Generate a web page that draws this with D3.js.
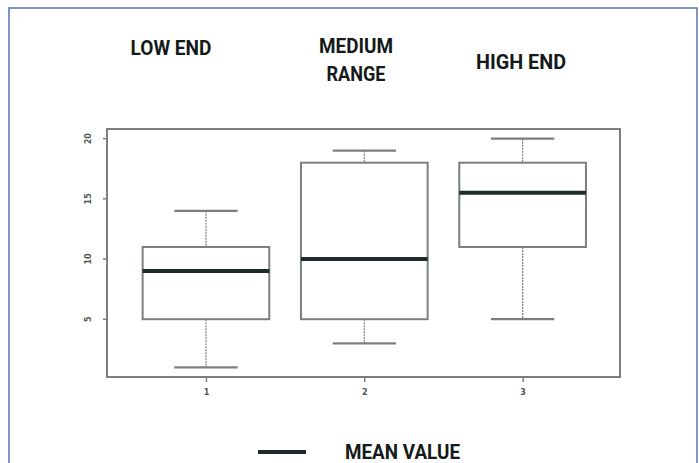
<!DOCTYPE html>
<html lang="en">
	<head>
		<meta charset="utf-8">
		<title>Box plot: low end / medium range / high end</title>
		<script src="https://cdn.jsdelivr.net/npm/d3@7"></script>
		<style>
			body { margin: 0; background: #fff; }
			svg { display: block; }
		</style>
	</head>
	<body>
		<script>
			// size of the picture
			var w = 699;
			var h = 463;

			// data
			var groups = [1, 2, 3];
			var groupNames = [["LOW END"], ["MEDIUM", "RANGE"], ["HIGH END"]];
			var lowWhisker = [1, 3, 5];
			var q1 = [5, 5, 11];
			var median = [9, 10, 15.5];
			var q3 = [11, 18, 18];
			var highWhisker = [14, 19, 20];
			var yTicks = [5, 10, 15, 20];
			var legendLabel = "MEAN VALUE";

			var boxes = groups.map(function(g, i) {
				return { g: g, lo: lowWhisker[i], q1: q1[i], med: median[i], q3: q3[i], hi: highWhisker[i] };
			});

			var svg = d3.select("body").append("svg")
				.attr("width", w)
				.attr("height", h);

			// blue panel border
			svg.append("rect")
				.attr("x", 9).attr("y", 8)
				.attr("width", 688).attr("height", 470)
				.attr("fill", "none")
				.attr("stroke", "#5474b4")
				.attr("stroke-width", 1.5);

			// plot area (plain names like "top" clash with window.top)
			var pLeft = 107, pRight = 620, pTop = 129, pBottom = 377;

			var x = d3.scaleLinear().domain([0.375, 3.615]).range([pLeft, pRight]);
			var y = d3.scaleLinear().domain([0.2, 20.8]).range([pBottom, pTop]);

			var grey = "#7b7f80";
			var tickFont = "DejaVu Sans, sans-serif";

			// y axis, R style with turned labels
			var yAxis = svg.append("g")
				.attr("transform", "translate(" + pLeft + ",0)")
				.call(d3.axisLeft(y).tickValues(yTicks).tickSize(4));
			yAxis.select(".domain").remove();
			yAxis.selectAll("line").attr("stroke", grey).attr("stroke-width", 1.5);
			yAxis.selectAll("text")
				.attr("x", null).attr("dy", null)
				.attr("transform", function(d) { return "translate(-19," + y(d) + ") rotate(-90)"; })
				.attr("text-anchor", "middle")
				.attr("dy", "0.35em")
				.style("font-family", tickFont)
				.style("font-size", "8px")
				.style("font-weight", "bold")
				.attr("fill", "#4d5556");
			yAxis.selectAll(".tick").attr("transform", null);
			yAxis.selectAll("line")
				.attr("y1", function(d) { return y(d); })
				.attr("y2", function(d) { return y(d); });

			// x axis
			var xAxis = svg.append("g")
				.attr("transform", "translate(0," + pBottom + ")")
				.call(d3.axisBottom(x).tickValues(groups).tickFormat(d3.format("d")).tickSize(5).tickPadding(7));
			xAxis.select(".domain").remove();
			xAxis.selectAll("line").attr("stroke", grey).attr("stroke-width", 1.5);
			xAxis.selectAll("text")
				.style("font-family", tickFont)
				.style("font-size", "8px")
				.style("font-weight", "bold")
				.attr("fill", "#4d5556");

			// frame
			svg.append("rect")
				.attr("x", pLeft).attr("y", pTop)
				.attr("width", pRight - pLeft).attr("height", pBottom - pTop)
				.attr("fill", "none")
				.attr("stroke", grey)
				.attr("stroke-width", 2);

			var boxW = 0.8, capW = 0.4;

			var g = svg.selectAll(".box")
				.data(boxes)
				.enter()
				.append("g")
				.attr("class", "box");

			// whiskers
			g.append("line")
				.attr("x1", function(d) { return x(d.g); })
				.attr("x2", function(d) { return x(d.g); })
				.attr("y1", function(d) { return y(d.hi); })
				.attr("y2", function(d) { return y(d.q3); })
				.attr("stroke", grey).attr("stroke-width", 1.2)
				.attr("stroke-dasharray", "2,1");
			g.append("line")
				.attr("x1", function(d) { return x(d.g); })
				.attr("x2", function(d) { return x(d.g); })
				.attr("y1", function(d) { return y(d.q1); })
				.attr("y2", function(d) { return y(d.lo); })
				.attr("stroke", grey).attr("stroke-width", 1.2)
				.attr("stroke-dasharray", "2,1");

			// caps
			["lo", "hi"].forEach(function(k) {
				g.append("line")
					.attr("x1", function(d) { return x(d.g - capW / 2); })
					.attr("x2", function(d) { return x(d.g + capW / 2); })
					.attr("y1", function(d) { return y(d[k]); })
					.attr("y2", function(d) { return y(d[k]); })
					.attr("stroke", grey).attr("stroke-width", 2.2);
			});

			// box
			g.append("rect")
				.attr("x", function(d) { return x(d.g - boxW / 2); })
				.attr("y", function(d) { return y(d.q3); })
				.attr("width", function(d) { return x(d.g + boxW / 2) - x(d.g - boxW / 2); })
				.attr("height", function(d) { return y(d.q1) - y(d.q3); })
				.attr("fill", "none")
				.attr("stroke", grey)
				.attr("stroke-width", 2);

			// median
			g.append("line")
				.attr("x1", function(d) { return x(d.g - boxW / 2); })
				.attr("x2", function(d) { return x(d.g + boxW / 2); })
				.attr("y1", function(d) { return y(d.med); })
				.attr("y2", function(d) { return y(d.med); })
				.attr("stroke", "#1f2a2a")
				.attr("stroke-width", 4);

			// group titles above the plot (they sit a little left of the boxes)
			var titleX = [171, 356, 521];
			var titleY = [[48], [46, 74], [62]];
			var titleW = [[81], [74, 59], [90]];
			groupNames.forEach(function(lines, i) {
				lines.forEach(function(t, j) {
					svg.append("text")
						.attr("x", titleX[i])
						.attr("y", titleY[i][j])
						.attr("dy", "0.35em")
						.attr("text-anchor", "middle")
						.attr("textLength", titleW[i][j])
						.attr("lengthAdjust", "spacingAndGlyphs")
						.style("font-family", "Roboto, 'Liberation Sans', sans-serif")
						.style("font-size", "21px")
						.style("font-weight", "bold")
						.attr("fill", "#141a1a")
						.text(t);
				});
			});

			// legend
			svg.append("line")
				.attr("x1", 258).attr("x2", 306)
				.attr("y1", 452).attr("y2", 452)
				.attr("stroke", "#1f2a2a")
				.attr("stroke-width", 4);
			svg.append("text")
				.attr("x", 345).attr("y", 452)
				.attr("dy", "0.35em")
				.attr("textLength", 115)
				.attr("lengthAdjust", "spacingAndGlyphs")
				.style("font-family", "Roboto, 'Liberation Sans', sans-serif")
				.style("font-size", "21px")
				.style("font-weight", "bold")
				.attr("fill", "#141a1a")
				.text(legendLabel);
		</script>
	</body>
</html>
